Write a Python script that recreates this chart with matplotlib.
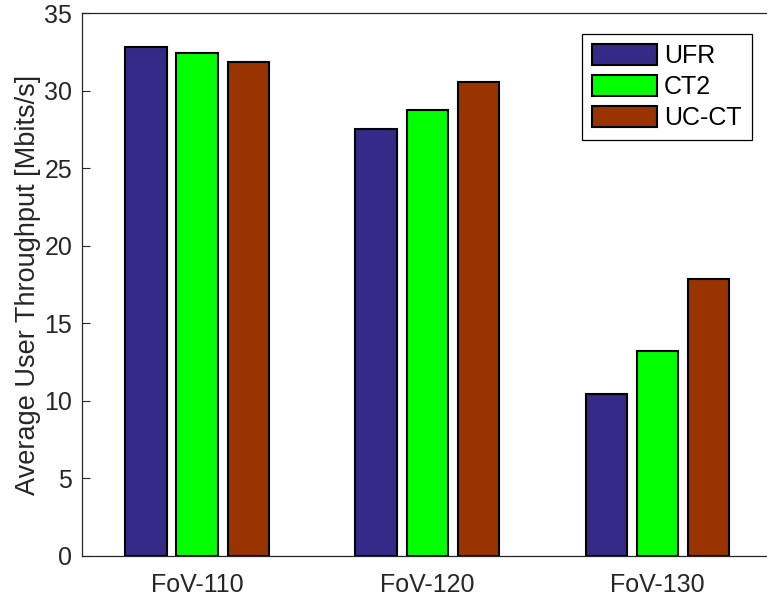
import matplotlib
matplotlib.use("Agg")
import matplotlib.pyplot as plt
import numpy as np

# average user throughput per field of view
groups = ["FoV-110", "FoV-120", "FoV-130"]
schemes = ["UFR", "CT2", "UC-CT"]
ufr = [32.85, 27.55, 10.45]
ct2 = [32.45, 28.75, 13.25]
uc_ct = [31.9, 30.6, 17.85]
colors = ["#352A87", "#00FF00", "#993300"]

plt.rcParams["font.family"] = ["Liberation Sans", "DejaVu Sans"]
ink = "#262626"

fig = plt.figure(figsize=(7.67, 5.97), dpi=100)
ax = fig.add_axes([0.1069, 0.0687, 0.9003, 0.9087])

x = np.arange(1, len(groups) + 1)
offset = 2 / 9
width = 0.18
for i, (vals, name) in enumerate(zip([ufr, ct2, uc_ct], schemes)):
    ax.bar(x + (i - 1) * offset, vals, width, color=colors[i],
           edgecolor="black", linewidth=1.5, label=name)

ax.set_xlim(0.5, 3.5)
ax.set_ylim(0, 35)
ax.set_yticks(np.arange(0, 36, 5))
ax.set_xticks(x)
ax.set_xticklabels(groups)
ax.set_axisbelow(True)

ax.tick_params(axis="y", direction="in", length=5.5, width=0.8, colors=ink,
               labelsize=18, pad=7)
ax.tick_params(axis="x", direction="in", length=0, colors=ink,
               labelsize=18, pad=12)
for s in ax.spines.values():
    s.set_color(ink)
    s.set_linewidth(0.9)

ax.set_ylabel("Average User Throughput [Mbits/s]", fontsize=19.5, color=ink,
              labelpad=2)

leg = ax.legend(loc="upper right", bbox_to_anchor=(0.980, 0.943),
                bbox_transform=fig.transFigure, borderaxespad=0,
                fontsize=18, fancybox=False, edgecolor="black",
                handlelength=2.6, handleheight=0.92, handletextpad=0.3,
                labelspacing=0.28, borderpad=0.4, framealpha=1)
leg.get_frame().set_linewidth(0.9)

fig.savefig("out.png", dpi=100)
